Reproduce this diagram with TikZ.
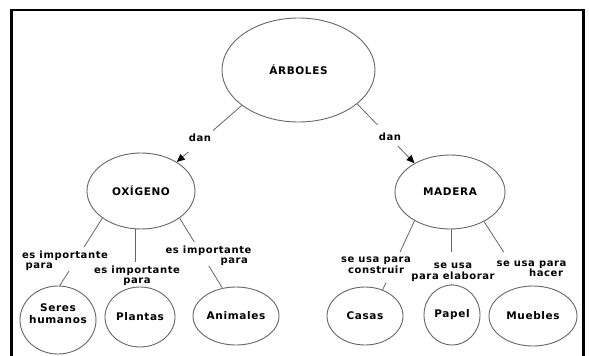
\documentclass[tikz,border=0pt]{standalone}
\usepackage{fontspec}
\setmainfont{DejaVu Sans}[LetterSpace=6]
\usetikzlibrary{shapes.geometric,arrows.meta}
\pgfdeclarelayer{bg}
\pgfsetlayers{bg,main}
\newcommand\lblup[1]{\rule{0pt}{#1pt}}
\newcommand\lbldn[1]{\rule[-#1pt]{0pt}{#1pt}}
\begin{document}
\begin{tikzpicture}[x=1pt,y=-1pt,
  concept/.style={ellipse, draw=black!60, line width=0.9pt, inner sep=0pt,
    font=\fontsize{10.5}{11}\selectfont\bfseries},
  link/.style={draw=black!60, line width=0.8pt},
  linkarrow/.style={link, -{Triangle[length=8pt,width=7pt,color=black]}},
  lbl/.style={fill=white, inner xsep=1.5pt, inner ysep=0pt, anchor=north,
    font=\fontsize{10}{10.5}\selectfont\bfseries},
]
\useasboundingbox (0,0) rectangle (589,356);
% frame
\draw[line width=2.6pt] (11.3,356) -- (11.3,9.8) -- (583.3,9.8) -- (583.3,356);

% concepts
\node[concept, minimum width=153pt, minimum height=104pt] (arboles) at (298.5,70) {ÁRBOLES};
\node[concept, minimum width=108pt, minimum height=76pt] (oxigeno) at (141,191) {OXÍGENO};
\node[concept, minimum width=110pt, minimum height=74pt] (madera) at (450,192) {MADERA};
\node[concept, minimum width=76pt, minimum height=68pt] (seres) at (58,320)
  {\raisebox{2pt}[0pt][0pt]{\makebox[0pt]{\begin{tabular}{@{}c@{}}Seres\\humanos\end{tabular}}}};
\node[concept, minimum width=70pt, minimum height=60pt] (plantas) at (140,317) {Plantas};
\node[concept, minimum width=86pt, minimum height=58pt] (animales) at (236,316) {Animales};
\node[concept, minimum width=76pt, minimum height=58pt] (casas) at (365,316) {Casas};
\node[concept, minimum width=56pt, minimum height=60pt] (papel) at (452,315) {Papel};
\node[concept, minimum width=88pt, minimum height=60pt] (muebles) at (533,316) {Muebles};

\begin{pgfonlayer}{bg}
% connectors
\draw[linkarrow] (arboles.-148) -- (oxigeno.39);
\draw[linkarrow] (arboles.-30) -- (madera.141);
\draw[link] (oxigeno.-145) -- (seres.87);
\draw[link] (oxigeno.-98) -- (oxigeno.-98 |- plantas.north);
\draw[link] (oxigeno.-35) -- (animales.116);
\draw[link] (madera.-141) -- (casas.56);
\draw[link] (madera.-88) -- (madera.-88 |- papel.north);
\draw[link] (madera.-41) -- (muebles.104);
% link labels
\node[lbl] (dan1) at (200,125) {\lblup{16}\lbldn{11}dan};
\node[lbl] (dan2) at (390,125) {\lblup{15}\lbldn{6}dan};
\node[lbl, align=left] (imp1) at (65,247) {\lblup{11}es importante\\\phantom{i}para};
\node[lbl, align=center] (imp2) at (137,262) {\lblup{11}es importante\\para\lbldn{3.5}};
\node[lbl, align=right] (imp3) at (208.5,242) {\lblup{11}es importante\\para\phantom{i}};
\node[lbl, align=center] (usa1) at (376,252) {\lblup{10.5}se usa para\\construir\lbldn{10}};
\node[lbl, align=center] (usa2) at (453,252) {\lblup{16.5}se usa\\para elaborar\lbldn{5}};
\node[lbl, align=right] (usa3) at (531.5,252) {\lblup{14}se usa para\\hacer\phantom{i}\lbldn{11}};
\end{pgfonlayer}
\end{tikzpicture}
\end{document}
